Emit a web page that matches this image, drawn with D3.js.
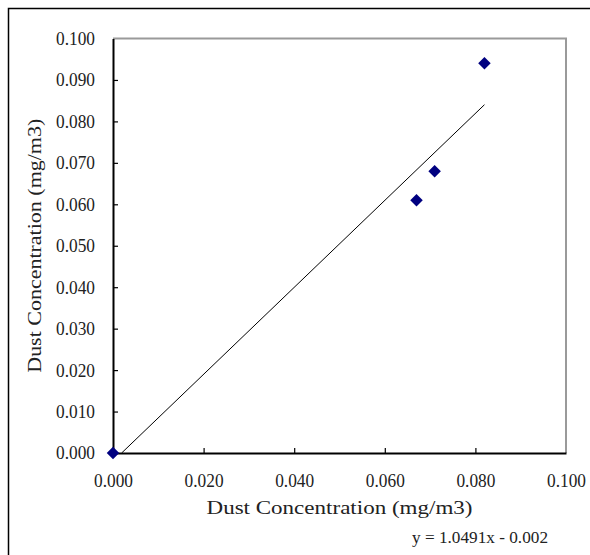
<!DOCTYPE html>
<html>
<head>
<meta charset="utf-8">
<script src="https://cdn.jsdelivr.net/npm/d3@7"></script>
<style>
  body { margin: 0; background: #fff; }
  text { font-family: "Liberation Serif", "DejaVu Serif", serif; fill: #222; }
</style>
</head>
<body>
<div id="chart"></div>
<script>
// measured points
var xVals = [0.000, 0.067, 0.071, 0.082];
var yVals = [0.000, 0.061, 0.068, 0.094];
var xTicks = [0, 0.02, 0.04, 0.06, 0.08, 0.1];
var yTicks = [0, 0.01, 0.02, 0.03, 0.04, 0.05, 0.06, 0.07, 0.08, 0.09, 0.1];
var slope = 1.0491, intercept = -0.002;
var eqLabel = "y = 1.0491x - 0.002";
var axisTitle = "Dust Concentration (mg/m3)";

var W = 590, H = 555;
var margin = {top: 38.5, right: 24, bottom: 102, left: 113};
var width = 566 - margin.left,
    height = 453 - margin.top;

var svg = d3.select("#chart").append("svg")
  .attr("width", W).attr("height", H);

// outer chart frame
svg.append("rect")
  .attr("x", 8.5).attr("y", 8.5)
  .attr("width", 600).attr("height", 600)
  .attr("fill", "none").attr("stroke", "#000").attr("stroke-width", 1.5);

var g = svg.append("g")
  .attr("transform", "translate(" + margin.left + "," + margin.top + ")");

var x = d3.scaleLinear().domain([0, 0.1]).range([0, width]);
var y = d3.scaleLinear().domain([0, 0.1]).range([height, 0]);

// plot area border (top/right gray)
g.append("path")
  .attr("d", "M0,0H" + width + "V" + height)
  .attr("fill", "none").attr("stroke", "#9a9a9a").attr("stroke-width", 2);

var xAxis = g.append("g")
  .attr("transform", "translate(0," + height + ")")
  .call(d3.axisBottom(x).tickValues(xTicks).tickSize(-5).tickSizeOuter(0)
    .tickFormat(d3.format(".3f")));
var yAxis = g.append("g")
  .call(d3.axisLeft(y).tickValues(yTicks).tickSize(-5).tickSizeOuter(0)
    .tickFormat(d3.format(".3f")));

[xAxis, yAxis].forEach(function(a) {
  a.select(".domain").attr("stroke", "#000").attr("stroke-width", 2);
  a.selectAll(".tick line").attr("stroke", "#000").attr("stroke-width", 1.2);
  a.selectAll("text")
    .style("font-family", "'Liberation Serif', serif")
    .style("font-size", "18.5px")
    .attr("textLength", 39).attr("lengthAdjust", "spacingAndGlyphs")
    .attr("fill", "#222");
});
xAxis.selectAll("text").attr("y", 21);
yAxis.selectAll("text").attr("x", -18);
// hide tick marks at axis ends
xAxis.selectAll(".tick line").filter(function(d) { return d === 0 || d === 0.1; }).remove();
yAxis.selectAll(".tick line").filter(function(d) { return d === 0 || d === 0.1; }).remove();

// trend line, clipped at y = 0
var x0 = -intercept / slope, x1 = d3.max(xVals);
g.append("line")
  .attr("x1", x(x0)).attr("y1", y(slope * x0 + intercept))
  .attr("x2", x(x1)).attr("y2", y(slope * x1 + intercept))
  .attr("stroke", "#000").attr("stroke-width", 1);

// diamond markers
var sym = d3.symbol().type(d3.symbolSquare).size(78);
g.selectAll(".pt")
  .data(xVals.map(function(v, i) { return [v, yVals[i]]; }))
  .enter().append("path")
  .attr("class", "pt")
  .attr("d", sym)
  .attr("transform", function(d) {
    return "translate(" + x(d[0]) + "," + y(d[1]) + ") rotate(45)";
  })
  .attr("fill", "#000080");

// axis titles
svg.append("text")
  .attr("x", margin.left + width / 2).attr("y", 514)
  .attr("text-anchor", "middle")
  .attr("textLength", 266).attr("lengthAdjust", "spacingAndGlyphs")
  .style("font-size", "19px")
  .text(axisTitle);

svg.append("text")
  .attr("transform", "translate(41," + (margin.top + height / 2) + ") rotate(-90)")
  .attr("text-anchor", "middle")
  .attr("textLength", 254).attr("lengthAdjust", "spacingAndGlyphs")
  .style("font-size", "19px")
  .text(axisTitle);

svg.append("text")
  .attr("x", 548).attr("y", 543)
  .attr("text-anchor", "end")
  .attr("textLength", 136).attr("lengthAdjust", "spacingAndGlyphs")
  .style("font-size", "17px")
  .text(eqLabel);
</script>
</body>
</html>
